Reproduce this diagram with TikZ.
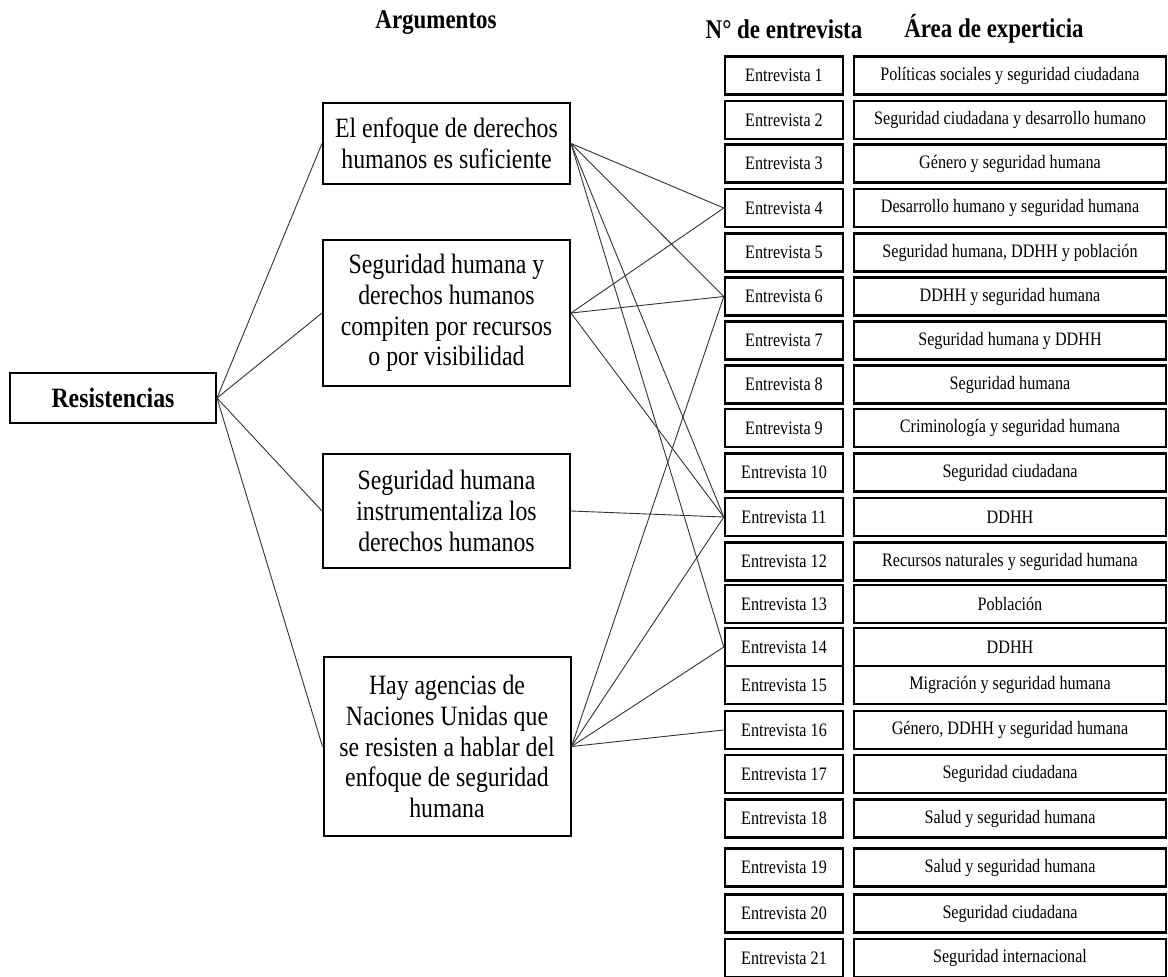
\documentclass[tikz,border=0pt]{standalone}
\usepackage{fontspec}
\setmainfont[FakeStretch=0.85]{Liberation Serif}
\usetikzlibrary{positioning}

\begin{document}
\begin{tikzpicture}[x=1pt,y=-1pt,
    caja/.style={draw, line width=2pt, inner sep=2pt, minimum width=247pt, align=center,
        font={\fontsize{28}{30.7}\selectfont}},
    fila/.style={draw, line width=2.4pt, inner sep=0pt, minimum height=38pt,
        font={\fontsize{19}{22}\selectfont}},
    titulo/.style={font={\fontsize{27}{30}\selectfont\bfseries}},
    enlace/.style={line width=0.9pt, black!80}]
    \useasboundingbox (0,0) rectangle (1168,977);

    % Headers
    \node[titulo] (hArg) at (436,23) {Argumentos};
    \node[titulo] (hNum) at (784,29) {N° de entrevista};
    \node[titulo] (hArea) at (994,29) {Área de experticia};

    % Root and arguments
    \node[draw, line width=2pt, minimum width=206pt, minimum height=50pt,
        font={\fontsize{28}{30}\selectfont\bfseries}] (res) at (113,398) {Resistencias};
    \node[caja, minimum height=81pt] (a1) at (446.5,143.5) {El enfoque de derechos\\humanos es suficiente};
    \node[caja, minimum height=146pt] (a2) at (446.5,313) {Seguridad humana y\\derechos humanos\\compiten por recursos\\o por visibilidad};
    \node[caja, minimum height=114pt] (a3) at (446.5,511) {Seguridad humana\\instrumentaliza los\\derechos humanos};
    \node[caja, minimum height=179pt] (a4) at (447,746.5) {Hay agencias de\\Naciones Unidas que\\se resisten a hablar del\\enfoque de seguridad\\humana};

    % Interviews and areas
    \foreach \n/\y/\t in {1/75.5/Políticas sociales y seguridad ciudadana,
        2/120/Seguridad ciudadana y desarrollo humano,
        3/163.5/Género y seguridad humana,
        4/208/Desarrollo humano y seguridad humana,
        5/252.5/{Seguridad humana, DDHH y población},
        6/296.5/DDHH y seguridad humana,
        7/340.5/Seguridad humana y DDHH,
        8/384.5/Seguridad humana,
        9/428/Criminología y seguridad humana,
        10/472.5/Seguridad ciudadana,
        11/517/DDHH,
        12/561.5/Recursos naturales y seguridad humana,
        13/604/Población,
        14/647/DDHH,
        15/685/Migración y seguridad humana,
        16/730/{Género, DDHH y seguridad humana},
        17/774/Seguridad ciudadana,
        18/818.5/Salud y seguridad humana,
        19/867.5/Salud y seguridad humana,
        20/913.5/Seguridad ciudadana,
        21/958/Seguridad internacional} {
        \node[fila, minimum width=118pt] (e\n) at (784,\y) {Entrevista \n};
        \node[fila, minimum width=312pt] (t\n) at (1010,\y) {\t};
    }

    % Connectors
    \foreach \a in {a1,a2,a3,a4}
        \draw[enlace] (res.east) -- (\a.west);
    \foreach \a/\e in {a1/4, a1/6, a1/11, a1/14, a2/4, a2/6, a2/11, a3/11,
        a4/6, a4/11, a4/14, a4/16}
        \draw[enlace] (\a.east) -- (e\e.west);
\end{tikzpicture}
\end{document}
